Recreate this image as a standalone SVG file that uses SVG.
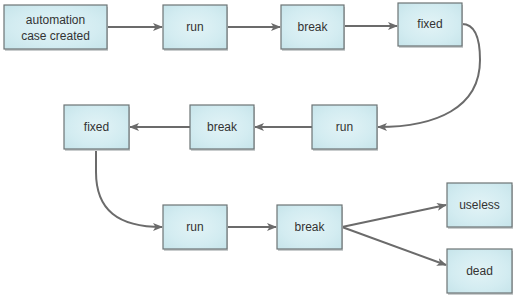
<svg xmlns="http://www.w3.org/2000/svg" width="514" height="296" viewBox="0 0 514 296">
<style>
.box{fill:url(#g);stroke:#6d7475;stroke-width:1.2}
.sh{fill:#c9cdce}
.t{font-family:"Liberation Sans",Arial,sans-serif;font-size:12px;fill:#333;text-anchor:middle}
.c{fill:none;stroke:#6b6b6b;stroke-width:2;marker-end:url(#a)}
</style>
<defs>
<radialGradient id="g" cx="50%" cy="50%" r="70%">
<stop offset="0" stop-color="#e2f3f6"/>
<stop offset="0.6" stop-color="#d3ecf1"/>
<stop offset="1" stop-color="#c6e4ea"/>
</radialGradient>
<marker id="a" markerWidth="10" markerHeight="10" refX="9" refY="5" orient="auto" markerUnits="userSpaceOnUse">
<path d="M0,1 L10,5 L0,9 L2.5,5 Z" fill="#6b6b6b"/>
</marker>
</defs>
<g id="connectors">
<path class="c" d="M107,27 L162,27"/>
<path class="c" d="M227,27 L280,27"/>
<path class="c" d="M344,26 L397,26"/>
<path class="c" d="M462,24 C476,24 480,40 480,60 C480,108 436,127 378,127"/>
<path class="c" d="M312,127 L255,127"/>
<path class="c" d="M190,127 L130,127"/>
<path class="c" d="M96,149 L96,172 C96,210 118,227 162,227"/>
<path class="c" d="M227,227 L276,227"/>
<path class="c" d="M342,227 L446,205"/>
<path class="c" d="M342,227 L446,265"/>
</g>
<g id="n1"><rect class="sh" x="5" y="7" width="103" height="44"/><rect class="box" x="4" y="5" width="103" height="44"/><text class="t" x="55.5" y="24">automation</text><text class="t" x="55.5" y="40">case created</text></g>
<g id="n2"><rect class="sh" x="164" y="7" width="64" height="44"/><rect class="box" x="163" y="5" width="64" height="44"/><text class="t" x="195" y="31">run</text></g>
<g id="n3"><rect class="sh" x="282" y="7" width="63" height="44"/><rect class="box" x="281" y="5" width="63" height="44"/><text class="t" x="312.5" y="31">break</text></g>
<g id="n4"><rect class="sh" x="399" y="5" width="64" height="43"/><rect class="box" x="398" y="3" width="64" height="43"/><text class="t" x="430" y="28">fixed</text></g>
<g id="n5"><rect class="sh" x="313" y="107" width="65" height="44"/><rect class="box" x="312" y="105" width="65" height="44"/><text class="t" x="344.5" y="131">run</text></g>
<g id="n6"><rect class="sh" x="191" y="107" width="64" height="44"/><rect class="box" x="190" y="105" width="64" height="44"/><text class="t" x="222" y="131">break</text></g>
<g id="n7"><rect class="sh" x="65" y="107" width="65" height="44"/><rect class="box" x="64" y="105" width="65" height="44"/><text class="t" x="96.5" y="131">fixed</text></g>
<g id="n8"><rect class="sh" x="164" y="207" width="64" height="44"/><rect class="box" x="163" y="205" width="64" height="44"/><text class="t" x="195" y="231">run</text></g>
<g id="n9"><rect class="sh" x="278" y="207" width="65" height="44"/><rect class="box" x="277" y="205" width="65" height="44"/><text class="t" x="309.5" y="231">break</text></g>
<g id="n10"><rect class="sh" x="448" y="185" width="65" height="44"/><rect class="box" x="447" y="183" width="65" height="44"/><text class="t" x="479.5" y="209">useless</text></g>
<g id="n11"><rect class="sh" x="448" y="251" width="65" height="44"/><rect class="box" x="447" y="249" width="65" height="44"/><text class="t" x="479.5" y="275">dead</text></g>
</svg>
